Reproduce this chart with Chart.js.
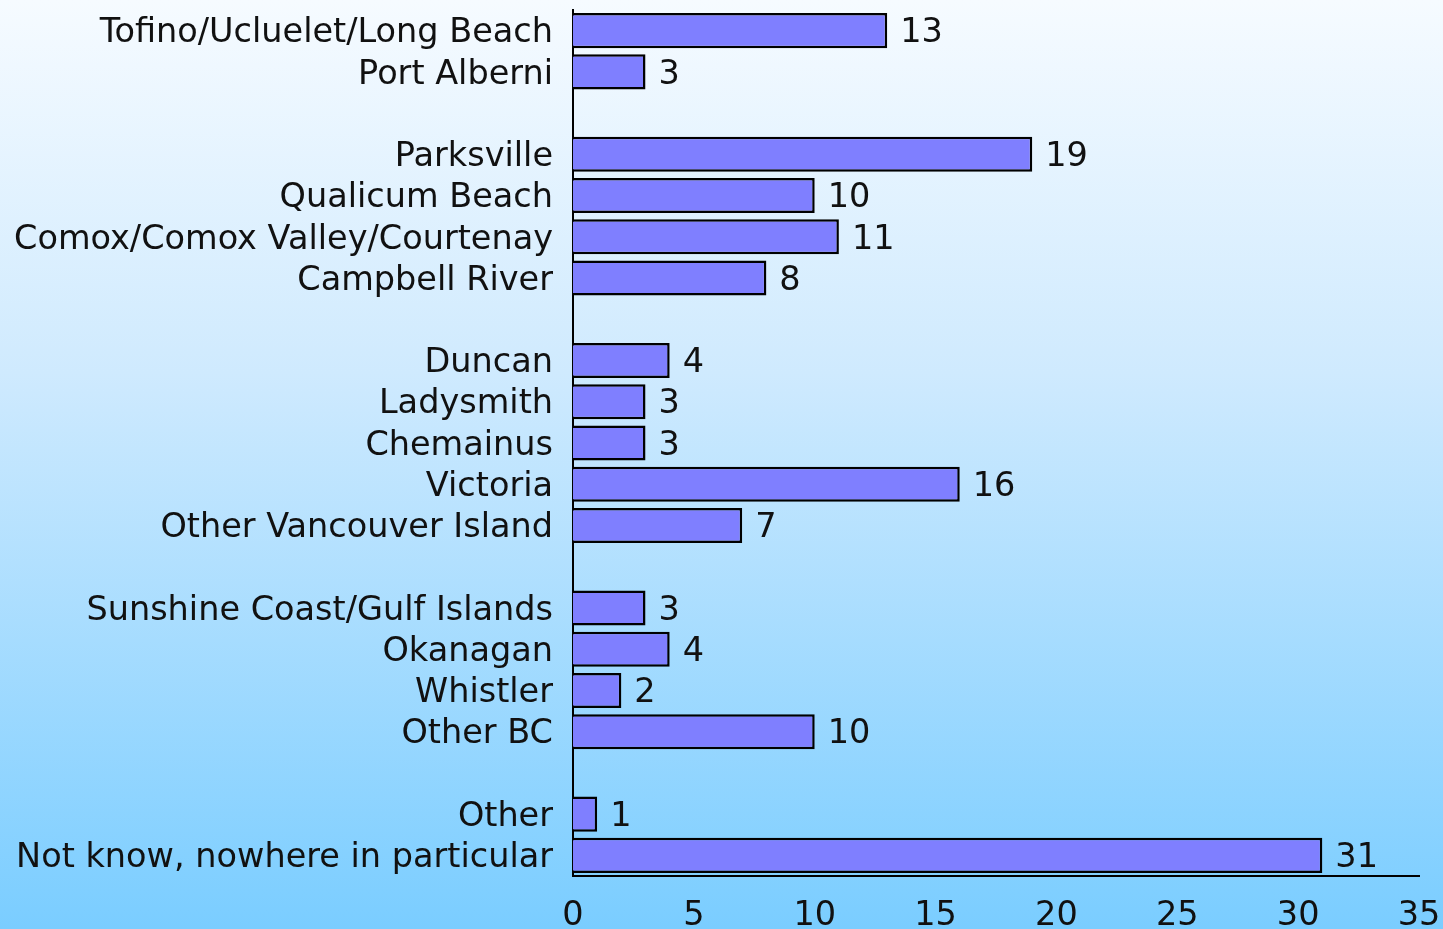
<!DOCTYPE html>
<html>
<head>
<meta charset="utf-8">
<script src="https://cdn.jsdelivr.net/npm/chart.js@4"></script>
<style>
  html, body { margin: 0; padding: 0; }
  body {
    width: 1443px; height: 929px; overflow: hidden;
    background: linear-gradient(to bottom, #f6fbff 0%, #cfeafe 40%, #7acdff 100%);
  }
  canvas { display: block; }
</style>
</head>
<body>
<canvas id="barChart" width="1443" height="929"></canvas>
<script>
var places = ["Tofino/Ucluelet/Long Beach", "Port Alberni", "",
  "Parksville", "Qualicum Beach", "Comox/Comox Valley/Courtenay", "Campbell River", "",
  "Duncan", "Ladysmith", "Chemainus", "Victoria", "Other Vancouver Island", "",
  "Sunshine Coast/Gulf Islands", "Okanagan", "Whistler", "Other BC", "",
  "Other", "Not know, nowhere in particular"];
var counts = [13, 3, null, 19, 10, 11, 8, null, 4, 3, 3, 16, 7, null, 3, 4, 2, 10, null, 1, 31];
var xTicks = [0, 5, 10, 15, 20, 25, 30, 35];

var fontFamily = "'DejaVu Sans', sans-serif";
var fontSize = 33.5;

// value labels beside the bars
var valueLabels = {
  id: 'valueLabels',
  afterDatasetsDraw: function (chart) {
    var ctx = chart.ctx;
    var meta = chart.getDatasetMeta(0);
    ctx.save();
    ctx.font = fontSize + 'px ' + fontFamily;
    ctx.fillStyle = '#111';
    ctx.textBaseline = 'middle';
    ctx.textAlign = 'left';
    meta.data.forEach(function (bar, i) {
      if (counts[i] === null) return;
      ctx.fillText(String(counts[i]), bar.x + 13, bar.y + 3);
    });
    ctx.restore();
  }
};

var ctx = document.getElementById("barChart").getContext('2d');
var myBarChart = new Chart(ctx, {
  type: 'bar',
  data: {
    labels: places,
    datasets: [{
      data: counts,
      backgroundColor: '#7f7fff',
      borderColor: '#000',
      borderWidth: 2.5,
      barPercentage: 0.85,
      categoryPercentage: 1
    }]
  },
  options: {
    indexAxis: 'y',
    responsive: false,
    animation: false,
    layout: { padding: { top: 10, right: 24, left: 0, bottom: 0 } },
    plugins: { legend: { display: false }, tooltip: { enabled: false } },
    scales: {
      x: {
        min: 0, max: 35,
        afterBuildTicks: function (scale) {
          scale.ticks = xTicks.map(function (v) { return { value: v }; });
        },
        afterFit: function (scale) {
          scale.height = 53;
          scale.paddingLeft = 0;
          scale.paddingRight = 0;
        },
        grid: { display: false, drawTicks: false },
        border: { display: true, color: '#000', width: 2 },
        ticks: { color: '#111', padding: 20, font: { family: fontFamily, size: fontSize } }
      },
      y: {
        afterFit: function (scale) {
          scale.width = 573;
          scale.paddingTop = 0;
          scale.paddingBottom = 0;
        },
        grid: { display: false, drawTicks: false },
        border: { display: true, color: '#000', width: 2 },
        ticks: { color: '#111', padding: 20, labelOffset: 3, autoSkip: false, font: { family: fontFamily, size: fontSize } }
      }
    }
  },
  plugins: [valueLabels]
});
</script>
</body>
</html>
